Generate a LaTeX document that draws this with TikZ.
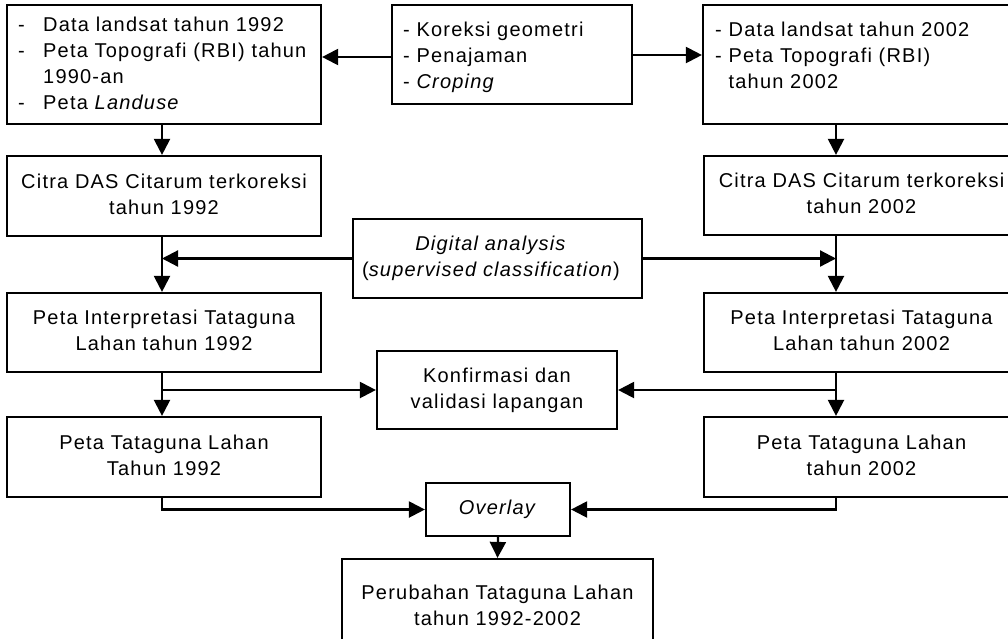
\documentclass[tikz,border=0pt]{standalone}
\usepackage{fontspec}
\setmainfont{Liberation Sans}[LetterSpace=6]
\usetikzlibrary{arrows.meta}
\begin{document}
\begin{tikzpicture}[x=1pt,y=-1pt,
  box/.style={draw, line width=2.2pt, inner sep=0pt, align=center},
  txt/.style={inner sep=0pt, align=left, anchor=north west},
  arr/.style={line width=2.2pt, -{Triangle[length=16pt,width=16pt]}},
  font=\fontsize{20}{26}\selectfont]
\useasboundingbox (0,0) rectangle (1008,638);
\clip (0,0) rectangle (1008,638);
\coordinate (L) at (162,0);
\coordinate (R) at (836,0);
% top row
\node[box, minimum width=314pt, minimum height=119pt] (tl) at (164,64.5) {};
\node[txt] (tlt) at (18,13.5) {\strut\makebox[25pt][l]{-}Data landsat tahun 1992\\
  \makebox[25pt][l]{-}Peta Topografi (RBI) tahun\\
  \hspace*{25pt}1990-an\\
  \makebox[25pt][l]{-}Peta \textit{Landuse}};
\node[box, minimum width=240pt, minimum height=99pt] (tm) at (512,54.5) {};
\node[txt] (tmt) at (403,17.8) {\strut{-} Koreksi geometri\\{-} Penajaman\\{-} \textit{Croping}};
\node[box, minimum width=316pt, minimum height=119pt] (tr) at (861,64.5) {};
\node[txt] (trt) at (715,17.8) {\strut{-} Data landsat tahun 2002\\{-} Peta Topografi (RBI)\\\hphantom{- }tahun 2002};
% second row
\node[box, minimum width=314pt, minimum height=80pt] (c92) at (164,196) {\strut Citra DAS Citarum terkoreksi\\tahun 1992\strut};
\node[box, minimum width=315pt, minimum height=79pt] (c02) at (861.5,195.5) {\strut Citra DAS Citarum terkoreksi\\tahun 2002\strut};
\node[box, minimum width=289pt, minimum height=79pt] (dig) at (497.5,258.5) {\strut\textit{Digital analysis}\hspace*{13pt}\\(\textit{supervised classification})\hspace*{13pt}\strut};
% third row
\node[box, minimum width=314pt, minimum height=79pt] (p92) at (164,332.5) {\strut Peta Interpretasi Tataguna\\Lahan tahun 1992\strut};
\node[box, minimum width=315pt, minimum height=79pt] (p02) at (861.5,332.5) {\strut Peta Interpretasi Tataguna\\Lahan tahun 2002\strut};
\node[box, minimum width=240pt, minimum height=78pt] (kon) at (497,390) {\strut Konfirmasi dan\\validasi lapangan\strut};
% fourth row
\node[box, minimum width=314pt, minimum height=80pt] (t92) at (164,457) {\strut Peta Tataguna Lahan\\Tahun 1992\strut};
\node[box, minimum width=315pt, minimum height=80pt] (t02) at (861.5,457) {\strut Peta Tataguna Lahan\\tahun 2002\strut};
\node[box, minimum width=144pt, minimum height=53pt] (ov) at (498,509.5) {\strut\textit{Overlay}};
\node[box, minimum width=311pt, minimum height=96pt] (per) at (497.5,607) {\strut Perubahan Tataguna Lahan\\tahun 1992-2002\strut};
% connectors
\draw[arr] ([yshift=-2.5pt]tm.west) -- ([yshift=-2.5pt]tm.west -| tl.east);
\draw[arr] ([yshift=-0.5pt]tm.east) -- ([yshift=-0.5pt]tm.east -| tr.west);
\draw[arr] (tl.south -| L) -- (c92.north -| L);
\draw[arr] (tr.south -| R) -- (c02.north -| R);
\draw[arr] (c92.south -| L) -- (p92.north -| L);
\draw[arr] (c02.south -| R) -- (p02.north -| R);
\draw[arr] (dig.west) -- (dig.west -| L);
\draw[arr] (dig.east) -- (dig.east -| R);
\draw[arr] (p92.south -| L) -- (t92.north -| L);
\draw[arr] (p02.south -| R) -- (t02.north -| R);
\draw[arr] (kon.west -| L) -- (kon.west);
\draw[arr] (kon.east -| R) -- (kon.east);
\draw[arr] (t92.south -| L) |- (ov.west);
\draw[arr] (t02.south -| R) |- (ov.east);
\draw[arr] (ov.south) -- (per.north);
\end{tikzpicture}
\end{document}
